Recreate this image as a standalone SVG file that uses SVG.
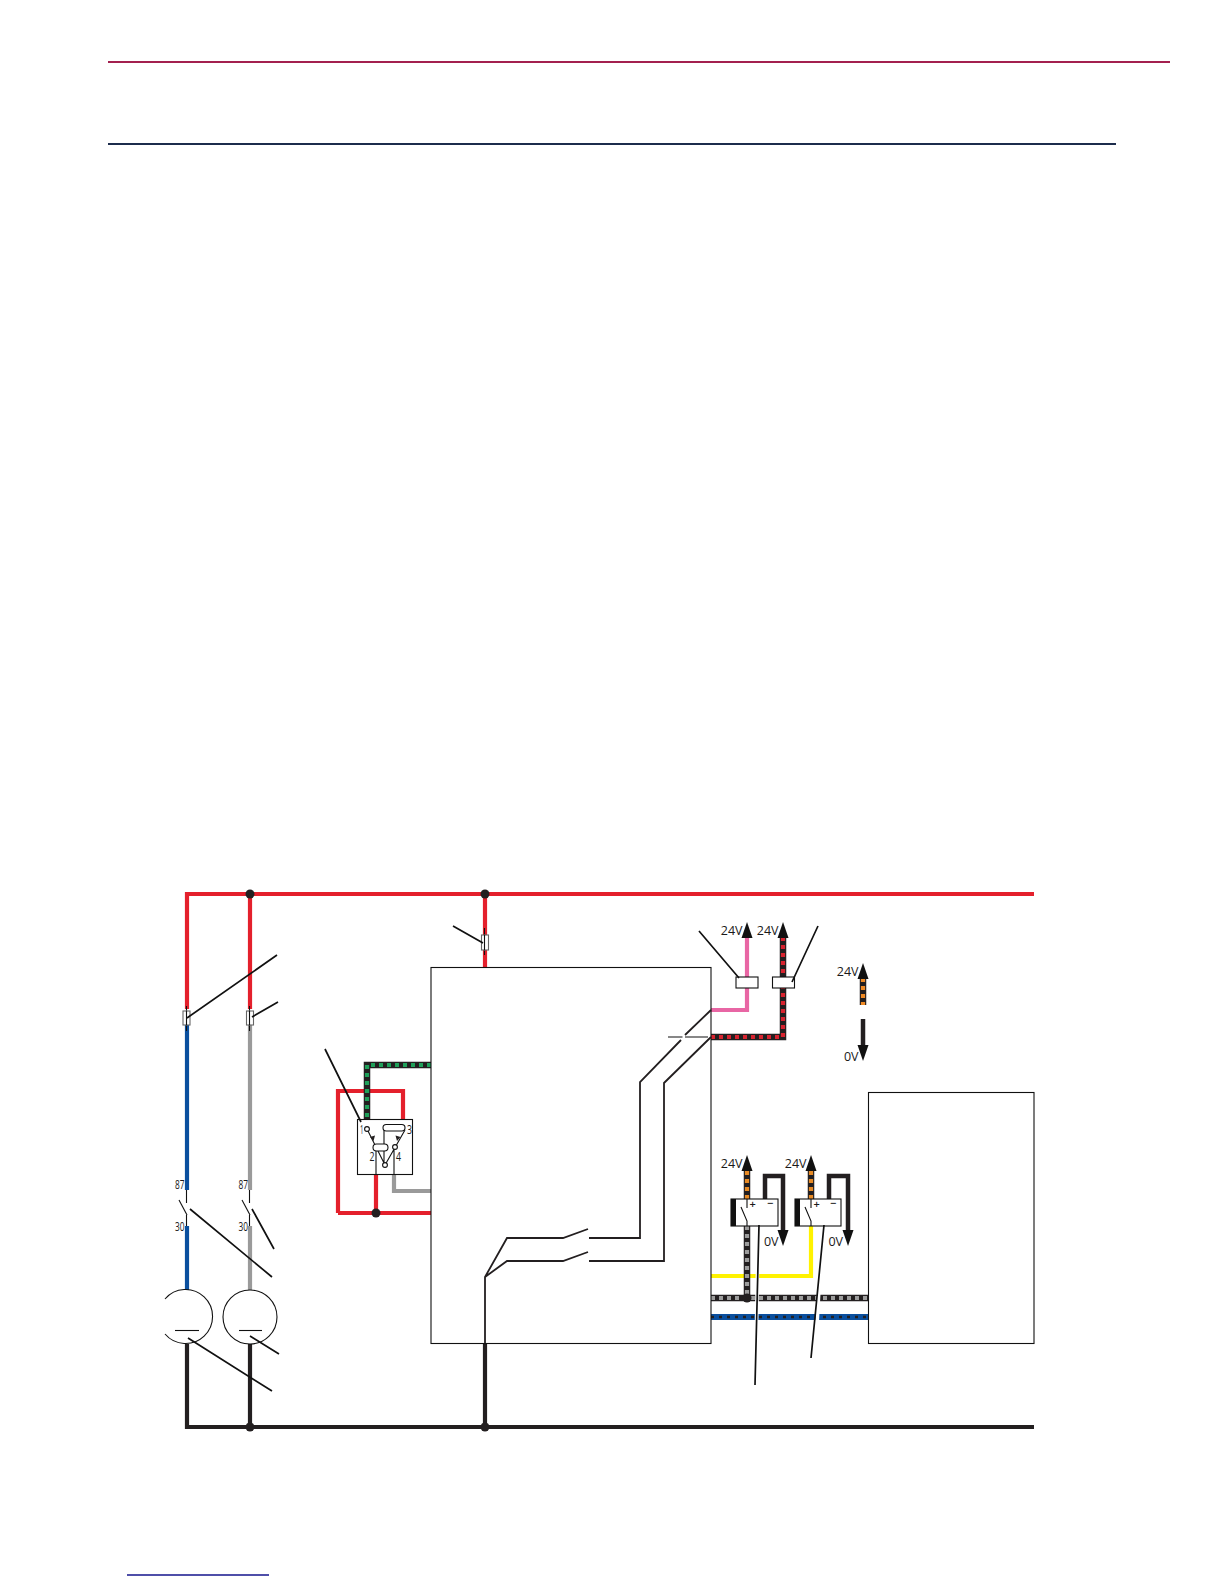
<svg xmlns="http://www.w3.org/2000/svg" width="1224" height="1584" viewBox="0 0 1224 1584">
<style>
text{font-family:"Open Sans","DejaVu Sans",sans-serif;fill:#1a1a1a}
.v{font-size:12.500px;text-anchor:end}
.n{font-size:12.500px}
.w{fill:none;stroke-width:4.200;stroke-linejoin:miter}
.red{stroke:#e4202c}.blk{stroke:#231f20}.blu{stroke:#0a4f9e}.gry{stroke:#9a9a9a}.pnk{stroke:#e866a4}.yel{stroke:#fff200}
.d{fill:none;stroke-width:6.500;stroke:#231f20}
.dd{fill:none;stroke-width:4.200;stroke-dasharray:4 4}
.t{fill:none;stroke:#111;stroke-width:1.100}
.m{fill:none;stroke:#231f20;stroke-width:1.800}
.l{fill:none;stroke:#111;stroke-width:1.700}
.box{fill:#fff;stroke:#111;stroke-width:1.100}
.f{fill:#fff;stroke:#666;stroke-width:1.100}
.h{fill:#231f20}
.hl{fill:none;stroke:#fff;stroke-width:3.600}
</style>
<defs>
<path id="up" d="M0 0L-5.500 16H5.500Z" fill="#111"/>
<path id="dn" d="M0 0L-5.500 -16H5.500Z" fill="#111"/>
</defs>
<g id="page-rules">
<line x1="108" y1="62" x2="1170" y2="62" stroke="#a3204f" stroke-width="2"/>
<line x1="108" y1="144" x2="1116" y2="144" stroke="#1c2c4c" stroke-width="2"/>
<line x1="127" y1="1575" x2="269" y2="1575" stroke="#14148c" stroke-width="1.300"/>
</g>
<g id="connectors">
<path class="w red" d="M187 1009V894H1034"/>
<path class="w red" d="M250 894V1009"/>
<path class="w red" d="M485 894V967"/>
<path class="w blu" d="M187 1024V1190M187 1226V1290"/>
<path class="w gry" d="M250 1024V1190M250 1226V1290"/>
<path class="w blk" d="M187 1344V1427H1034M250 1344V1427M485 1343V1427"/>
<path class="t" d="M186.500 1190V1203M186.500 1215V1226M249.500 1190V1203M249.500 1215V1226"/>
<path class="w red" d="M338 1213V1091H403V1119M338 1213H431M376 1174V1213"/>
<path class="w gry" d="M394 1174V1191H431"/>
<path class="d" d="M367 1119V1065H431"/>
<path class="dd" stroke="#1fa05a" d="M431 1065H367V1119"/>
<path class="w pnk" d="M711 1010H747V938"/>
<path class="d" d="M711 1037H783V938"/>
<path class="dd" stroke="#d8232f" d="M711 1037H783V938"/>
<path class="d" d="M863 978V1005"/>
<path class="dd" stroke="#f08a24" d="M863 978V1005"/>
<path class="d" style="stroke-width:4.500" d="M863 1019V1046"/>
<path class="d" d="M747 1199V1170"/><path class="dd" stroke="#e88a24" d="M747 1199V1170"/>
<path class="d" d="M811 1199V1170"/><path class="dd" stroke="#e88a24" d="M811 1199V1170"/>
<path class="w blk" style="stroke-width:4.500" d="M765 1199V1176H783V1231"/>
<path class="w blk" style="stroke-width:4.500" d="M829 1199V1176H848V1231"/>
<path class="w yel" d="M711 1276H811V1226"/>
<path class="d" d="M747 1226V1298"/><path class="dd" stroke="#9c9c9c" d="M747 1226V1298"/>
<path class="d" d="M711 1298H868"/><path class="dd" stroke="#9c9c9c" d="M711 1298H868"/>
<path class="w blu" style="stroke-width:6" d="M711 1317H868"/>
<path fill="none" stroke="#231f20" stroke-width="2.600" stroke-dasharray="3 5" d="M711 1317H868"/>
</g>
<g id="main-box"><rect class="t" x="431" y="967.500" width="280" height="376"/></g>
<g id="right-box"><rect class="t" x="868.500" y="1092.500" width="165.500" height="251"/></g>
<g id="internal-wiring">
<path class="m" d="M711 1010L685 1035M681 1040L640 1082V1238H589"/>
<path class="m" d="M711 1037L664 1083V1261H589"/>
<path class="t" d="M668 1037H682.500M685 1037H708"/>
<path class="m" d="M485 1343V1277L507 1238H563L588 1229M485 1277L507 1261H563L588 1252"/>
</g>
<g id="relay">
<rect class="box" x="357.500" y="1119.500" width="55" height="55"/>
<path class="t" d="M367 1129L385 1165M405 1130L385 1165M384 1128V1164M376 1148V1174M394 1147V1174"/>
<rect class="box" x="383" y="1124.500" width="22" height="6.500" rx="3.200"/>
<rect class="box" x="373" y="1144" width="15" height="7" rx="3.500"/>
<circle class="box" cx="367" cy="1129" r="2.400"/>
<circle class="box" cx="395" cy="1147" r="2.400"/>
<circle class="box" cx="385" cy="1165" r="2.400"/>
<path class="h" d="M370 1137l5 -1.500 -1.500 5.500zM400.500 1137l-5 -1.500 1.500 5.500z"/>
<text class="n" x="360" y="1134" textLength="3.500" lengthAdjust="spacingAndGlyphs">1</text>
<text class="n" x="407" y="1134" textLength="5" lengthAdjust="spacingAndGlyphs">3</text>
<text class="n" x="369.500" y="1161" textLength="5" lengthAdjust="spacingAndGlyphs">2</text>
<text class="n" x="396" y="1161" textLength="5" lengthAdjust="spacingAndGlyphs">4</text>
</g>
<g id="motor-1">
<path class="t" d="M165 1299A27 27 0 1 1 165 1334"/>
<line class="t" x1="175" y1="1330.500" x2="199" y2="1330.500"/>
</g>
<g id="motor-2">
<circle class="t" cx="250" cy="1317" r="27"/>
<line class="t" x1="239" y1="1330.500" x2="262" y2="1330.500"/>
</g>
<g id="contact-1">
<path class="t" d="M179 1200L187 1215"/>
<text class="n" x="175" y="1189" textLength="9.500" lengthAdjust="spacingAndGlyphs">87</text>
<text class="n" x="175" y="1231" textLength="9.500" lengthAdjust="spacingAndGlyphs">30</text>
</g>
<g id="contact-2">
<path class="t" d="M242 1200L250 1215"/>
<text class="n" x="238.500" y="1189" textLength="9.500" lengthAdjust="spacingAndGlyphs">87</text>
<text class="n" x="238.500" y="1231" textLength="9.500" lengthAdjust="spacingAndGlyphs">30</text>
</g>
<g id="fuses">
<path class="t" d="M186.500 1006V1031M249.500 1006V1031M484.500 928V955"/>
<rect class="f" x="183" y="1011" width="7" height="14"/>
<rect class="f" x="246.500" y="1011" width="7" height="14"/>
<rect class="f" x="481.500" y="935" width="7" height="15"/>
<path class="t" d="M186.500 1011V1025M249.500 1011V1025M484.500 935V950"/>
</g>
<g id="outputs">
<rect class="box" x="736" y="977" width="22" height="11"/>
<rect class="box" x="772.500" y="977" width="22" height="11"/>
<use href="#up" x="747" y="922"/><text class="v" x="742.500" y="935">24V</text>
<use href="#up" x="783" y="922"/><text class="v" x="778.500" y="935">24V</text>
<use href="#up" x="863" y="963"/><text class="v" x="858.500" y="976">24V</text>
<use href="#dn" x="863" y="1061"/><text class="v" x="858.500" y="1061">0V</text>
</g>
<g id="driver-1">
<rect class="box" x="731" y="1199" width="47" height="27"/>
<rect x="731" y="1199" width="5" height="27" fill="#111"/>
<path class="t" d="M747 1199V1208M741 1207L747 1221V1226"/>
<text x="749.500" y="1208" font-size="11" font-weight="600">+</text><text x="767" y="1207" font-size="11" font-weight="600">−</text>
<use href="#up" x="747" y="1155"/><text class="v" x="742.500" y="1168">24V</text>
<use href="#dn" x="783" y="1246"/><text class="v" x="778.500" y="1246">0V</text>
</g>
<g id="driver-2">
<rect class="box" x="795" y="1199" width="46" height="27"/>
<rect x="795" y="1199" width="5" height="27" fill="#111"/>
<path class="t" d="M811 1199V1208M805 1207L811 1221V1226"/>
<text x="813.500" y="1208" font-size="11" font-weight="600">+</text><text x="830" y="1207" font-size="11" font-weight="600">−</text>
<use href="#up" x="811" y="1155"/><text class="v" x="806.500" y="1168">24V</text>
<use href="#dn" x="848" y="1246"/><text class="v" x="843" y="1246">0V</text>
</g>
<g id="junctions" class="h">
<circle cx="250" cy="894" r="4.500"/><circle cx="485" cy="894" r="4.500"/>
<circle cx="376" cy="1213" r="4.500"/><circle cx="747" cy="1298" r="4.500"/>
<circle cx="250" cy="1427" r="4.500"/><circle cx="485" cy="1427" r="4.500"/>
</g>
<g id="leaders">
<path class="hl" d="M757.500 1270L756.500 1325M820 1270L817 1325"/>
<path class="l" d="M187 1018L277 955M252 1017L278 1002M453 926L483 943M325 1049L361 1122M699 931L739 978M818 926L792 982"/>
<path class="l" d="M190 1209L272 1277M252 1209L274 1249M188 1338L272 1391M250 1336L279 1354M759 1225L755 1385M824 1225L811 1358"/>
</g>
</svg>
